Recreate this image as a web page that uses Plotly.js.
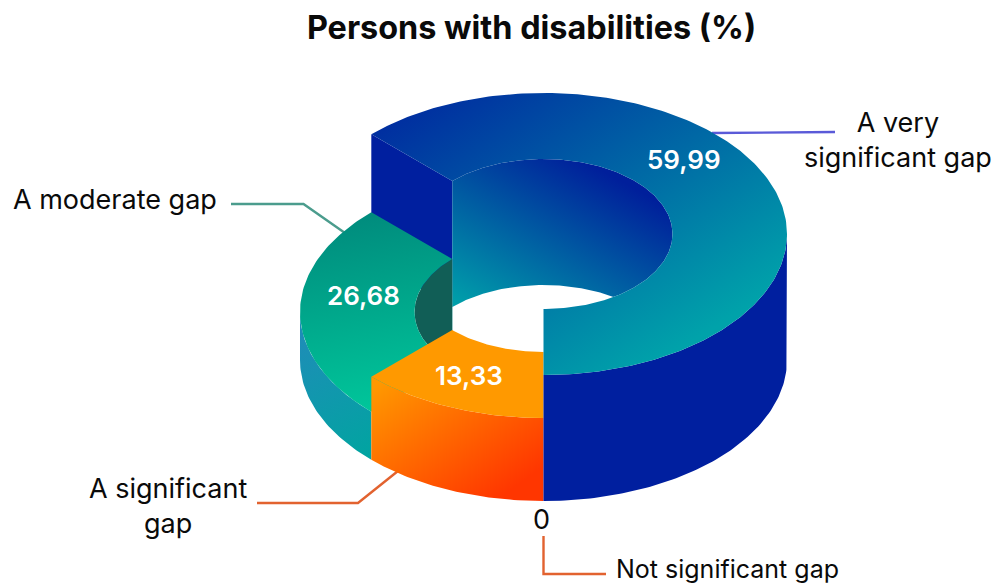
<!DOCTYPE html>
<html>
<head>
<meta charset="utf-8">
<script src="https://cdn.plot.ly/plotly-3.0.1.min.js"></script>
<style>html,body{margin:0;padding:0;background:#fff}#chart{width:993px;height:583px}</style>
</head>
<body>
<div id="chart"></div>
<script>
// Gap categories and their share of persons with disabilities (%)
const categories = ['A very significant gap', 'A moderate gap', 'A significant gap', 'Not significant gap'];
const shares = [59.99, 26.68, 13.33, 0];
const categoryLabels = ['A very<br>significant gap', 'A moderate gap', 'A significant<br>gap', 'Not significant gap'];

// Extruded height of each ring segment, in axis units
const extrusions = [126, 48, 83, 0];

// Ring projection: an ellipse centred on the plinth, seen from above
const centreX = 543.5, baseY = 360;
const outerRx = 243.5, outerRy = 141, innerRx = 129, innerRy = 75;

// Wedges are drawn in eighths of the ring, measured from the front going anticlockwise
const sweeps = shares.map(v => Math.round(v / 100 * 8) * 45);
const veryEnd = sweeps[0];
const moderateEnd = veryEnd + sweeps[1];
const significantEnd = moderateEnd + sweeps[2];

const topVery = baseY - extrusions[0];
const topModerate = baseY - extrusions[1];
const topSignificant = baseY - extrusions[2];

function pt(theta, rx, ry, cy) {
  const a = theta * Math.PI / 180;
  return [centreX + rx * Math.sin(a), cy + ry * Math.cos(a)];
}
function arc(from, to, rx, ry, cy) {
  const out = [];
  const n = Math.max(1, Math.abs(to - from));
  for (let i = 0; i <= n; i++) out.push(pt(from + (to - from) * i / n, rx, ry, cy));
  return out;
}
const outerArc = (a, b, cy) => arc(a, b, outerRx, outerRy, cy);
const innerArc = (a, b, cy) => arc(a, b, innerRx, innerRy, cy);

// Fill styles: solid colour or a two-stop gradient along a vector in axis units
const solid = c => ({stops: [c, c]});
const styleCut = solid('#001f9f');
const styleBore = {stops: ['#001f9b', '#00a0aa'], from: [610, 175], to: [520, 340]};
const styleHole = solid('#ffffff');
const styleBoreGreen = solid('#115e56');
const styleGreenWall = {stops: ['#1f8cb8', '#00a5a0'], from: [300, 330], to: [370, 460]};
const styleGreenTop = {stops: ['#008b7d', '#00c59a'], from: [350, 215], to: [385, 405]};
const styleOrangeWall = {stops: ['#ff9800', '#ff3600'], from: [395, 372], to: [490, 505]};
const styleOrangeTop = solid('#ff9900');
const styleBlueWall = solid('#001f9f');
const styleBlueTop = {stops: ['#002ea0', '#00a2aa'], from: [440, 90], to: [620, 385]};

function poly(points, style) {
  const t = {
    type: 'scatter', mode: 'lines', hoverinfo: 'skip', showlegend: false,
    x: points.map(p => p[0]), y: points.map(p => p[1]),
    fill: 'toself', line: {width: 0, color: style.stops[0]}
  };
  if (style.from) {
    t.fillgradient = {type: 'vertical', colorscale: [[0, style.stops[0]], [1, style.stops[1]]]};
  } else {
    t.fillcolor = style.stops[0];
  }
  return t;
}
function leader(xs, ys, color) {
  return {type: 'scatter', mode: 'lines', hoverinfo: 'skip', showlegend: false,
    x: xs, y: ys, line: {color: color, width: 2.4}};
}

const layers = [
  [[...outerArc(veryEnd, veryEnd, topVery), ...innerArc(veryEnd, veryEnd, topVery),
    ...innerArc(veryEnd, veryEnd, baseY), ...outerArc(veryEnd, veryEnd, baseY)], styleCut],
  [[...innerArc(veryEnd, 0, topVery), pt(0, innerRx, innerRy, baseY),
    pt(-45, innerRx, innerRy, baseY), pt(veryEnd, innerRx, innerRy, baseY)], styleBore],
  [innerArc(veryEnd, -45, baseY), styleHole],
  [innerArc(veryEnd, moderateEnd, topModerate), styleBoreGreen],
  [[...outerArc(270, moderateEnd, topModerate), ...outerArc(moderateEnd, 270, baseY)], styleGreenWall],
  [[...outerArc(veryEnd, moderateEnd, topModerate), ...innerArc(moderateEnd, veryEnd, topModerate)], styleGreenTop],
  [[...outerArc(moderateEnd, significantEnd, topSignificant), ...outerArc(significantEnd, moderateEnd, baseY)], styleOrangeWall],
  [[...outerArc(moderateEnd, significantEnd, topSignificant), ...innerArc(significantEnd, moderateEnd, topSignificant)], styleOrangeTop],
  [[...outerArc(0, 90, topVery), ...outerArc(90, 0, baseY)], styleBlueWall],
  [[...outerArc(0, veryEnd, topVery), ...innerArc(veryEnd, 0, topVery)], styleBlueTop]
];

// Callout lines sit beneath the ring so they end at its edge
const callouts = [
  leader([712, 835], [133, 132], '#5a5ad8'),
  leader([231, 303.5, 345], [204, 204, 233], '#4b9c8d'),
  leader([257, 358, 398], [503, 503, 471], '#e2622f'),
  leader([543.5, 543.5, 606], [536, 574, 574], '#e2622f')
];

const traces = [...callouts, ...layers.map(l => poly(l[0], l[1]))];
const gradientStyles = layers.map(l => l[1]);

const formatShare = v => v.toFixed(2).replace('.', ',');
const labelFont = {family: 'Inter, sans-serif', size: 27, color: '#0a0a0a'};
const footFont = {family: 'Inter, sans-serif', size: 25, color: '#0a0a0a'};
const valueFont = {family: 'Inter, sans-serif', size: 26, color: '#ffffff', weight: 600};
const note = (x, y, text, font, xanchor) => ({
  xref: 'x', yref: 'y', x: x, y: y, text: text, font: font, showarrow: false,
  xanchor: xanchor || 'center', yanchor: 'middle', align: 'center', borderpad: 0
});

const annotations = [
  note(684, 159, formatShare(shares[0]), valueFont),
  note(363, 295, formatShare(shares[1]), valueFont),
  note(468.5, 375, formatShare(shares[2]), valueFont),
  note(898, 140, categoryLabels[0], labelFont),
  note(12, 199, categoryLabels[1], labelFont, 'left'),
  note(168, 506, categoryLabels[2], labelFont),
  note(541, 519, String(shares[3]), labelFont),
  note(615, 569, categoryLabels[3], footFont, 'left')
];

const layout = {
  width: 993, height: 583,
  margin: {l: 0, r: 0, t: 0, b: 0},
  paper_bgcolor: '#ffffff', plot_bgcolor: '#ffffff',
  title: {
    text: 'Persons with disabilities (%)',
    x: 531.5 / 993, xanchor: 'center', y: 1 - 28 / 583, yanchor: 'middle',
    font: {family: 'Inter, sans-serif', size: 32.4, color: '#0a0a0a', weight: 700}
  },
  xaxis: {range: [0, 993], visible: false, fixedrange: true},
  yaxis: {range: [583, 0], visible: false, fixedrange: true},
  annotations: annotations,
  showlegend: false
};

// Tilt each linear gradient along its own vector once the fills exist
function orientGradients(gd) {
  const groups = gd.querySelectorAll('.scatterlayer .trace');
  gradientStyles.forEach((style, i) => {
    if (!style.from) return;
    const group = groups[i + callouts.length];
    const path = group && group.querySelector('path.js-fill');
    if (!path) return;
    const m = /url\(["']?[^#]*#([^"')]+)["']?\)/.exec(path.style.fill || path.getAttribute('style') || '');
    const grad = m && document.getElementById(m[1]);
    if (!grad) return;
    grad.setAttribute('gradientUnits', 'userSpaceOnUse');
    grad.setAttribute('x1', style.from[0]);
    grad.setAttribute('y1', style.from[1]);
    grad.setAttribute('x2', style.to[0]);
    grad.setAttribute('y2', style.to[1]);
  });
}

Plotly.newPlot('chart', traces, layout, {displayModeBar: false, staticPlot: true}).then(orientGradients);
</script>
</body>
</html>
